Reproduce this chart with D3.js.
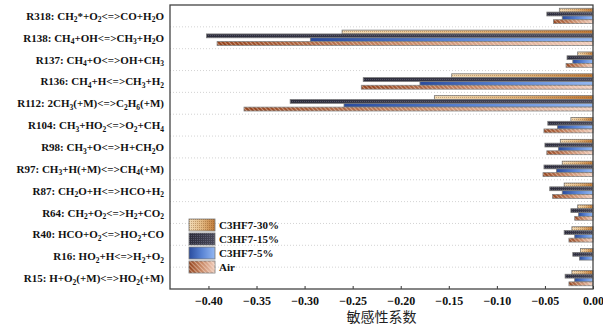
<!DOCTYPE html>
<html>
<head>
<meta charset="utf-8">
<script src="https://cdn.jsdelivr.net/npm/d3@7"></script>
<style>
  body { margin: 0; background: #fff; }
  svg { display: block; }
</style>
</head>
<body>
<div id="chart"></div>
<script>
// reactions, top to bottom ("_n" marks a subscript)
const reactions = [
  'R318: CH_2*+O_2<=>CO+H_2O',
  'R138: CH_4+OH<=>CH_3+H_2O',
  'R137: CH_4+O<=>OH+CH_3',
  'R136: CH_4+H<=>CH_3+H_2',
  'R112: 2CH_3(+M)<=>C_2H_6(+M)',
  'R104: CH_3+HO_2<=>O_2+CH_4',
  'R98: CH_3+O<=>H+CH_2O',
  'R97: CH_3+H(+M)<=>CH_4(+M)',
  'R87: CH_2O+H<=>HCO+H_2',
  'R64: CH_2+O_2<=>H_2+CO_2',
  'R40: HCO+O_2<=>HO_2+CO',
  'R16: HO_2+H<=>H_2+O_2',
  'R15: H+O_2(+M)<=>HO_2(+M)'
]
const seriesNames = ['C3HF7-30%', 'C3HF7-15%', 'C3HF7-5%', 'Air']
const c3hf7_30 = [-0.035, -0.261, -0.016, -0.147, -0.165, -0.023, -0.034, -0.032, -0.030, -0.016, -0.022, -0.013, -0.022]
const c3hf7_15 = [-0.048, -0.402, -0.027, -0.239, -0.315, -0.047, -0.050, -0.051, -0.045, -0.023, -0.030, -0.021, -0.029]
const c3hf7_5  = [-0.032, -0.294, -0.021, -0.180, -0.259, -0.037, -0.036, -0.038, -0.032, -0.015, -0.019, -0.014, -0.019]
const air      = [-0.041, -0.391, -0.028, -0.241, -0.363, -0.051, -0.048, -0.052, -0.042, -0.019, -0.025, 0.000, -0.025]
const xTicks = [-0.40, -0.35, -0.30, -0.25, -0.20, -0.15, -0.10, -0.05, 0.00]
const xTitle = '敏感性系数'

const allSeries = [c3hf7_30, c3hf7_15, c3hf7_5, air]

let W = 603, H = 327
let margin = {top: 5, right: 10, bottom: 38, left: 170}
let pxX = W - margin.left - margin.right,
    pxY = H - margin.top - margin.bottom

let svg = d3.select('#chart').append('svg')
    .attr('width', W).attr('height', H)
let defs = svg.append('defs')

// fills: gradient per series plus a texture on top
function grad(id, stops) {
    let g = defs.append('linearGradient').attr('id', id)
        .attr('x1', 0).attr('x2', 1).attr('y1', 0).attr('y2', 0)
    stops.forEach((c, i) => g.append('stop')
        .attr('offset', i / (stops.length - 1)).attr('stop-color', c))
}
grad('g0', ['#f2dcb8', '#e2b882', '#c07a38'])
grad('g1', ['#2c2c3a', '#3a3a4a', '#4a4a5a'])
grad('g2', ['#2a4c9e', '#5a84d4', '#94b8f2'])
grad('g3', ['#94441e', '#c98a68', '#f0cdbd'])

// dotted texture
let p0 = defs.append('pattern').attr('id', 't0').attr('patternUnits', 'userSpaceOnUse')
    .attr('width', 2).attr('height', 2)
p0.append('rect').attr('width', 1).attr('height', 1).attr('fill', 'rgba(120,70,20,0.35)')
let p1 = defs.append('pattern').attr('id', 't1').attr('patternUnits', 'userSpaceOnUse')
    .attr('width', 2).attr('height', 2)
p1.append('rect').attr('width', 1).attr('height', 1).attr('fill', 'rgba(150,150,175,0.35)')
// hatch for Air
let p3 = defs.append('pattern').attr('id', 't3').attr('patternUnits', 'userSpaceOnUse')
    .attr('width', 3).attr('height', 3).attr('patternTransform', 'rotate(-45)')
p3.append('rect').attr('width', 1).attr('height', 3).attr('fill', 'rgba(255,235,220,0.45)')
const textures = ['url(#t0)', 'url(#t1)', null, 'url(#t3)']

let g = svg.append('g').attr('transform', `translate(${margin.left},${margin.top})`)

let scX = d3.scaleLinear().domain([-0.44, 0]).range([0, pxX])
let scY = d3.scaleBand().domain(reactions).range([0, pxY]).paddingInner(0).paddingOuter(0)
let scS = d3.scaleBand().domain(seriesNames).range([0, scY.bandwidth()]).paddingInner(0).paddingOuter(0.85)

// dotted grid lines between categories
g.append('g').selectAll('line')
    .data(reactions.slice(1))
    .enter().append('line')
    .attr('x1', 0).attr('x2', pxX)
    .attr('y1', d => scY(d)).attr('y2', d => scY(d))
    .attr('stroke', '#c8c8c8').attr('stroke-width', 0.8)
    .attr('stroke-dasharray', '1,2')

// bars
allSeries.forEach((vals, si) => {
    let bg = g.append('g')
    let rows = vals.map((v, i) => ({r: reactions[i], v: v})).filter(d => d.v < 0)
    bg.selectAll('rect.b')
        .data(rows).enter().append('rect').classed('b', true)
        .attr('x', d => scX(d.v))
        .attr('y', d => scY(d.r) + scS(seriesNames[si]))
        .attr('width', d => scX(0) - scX(d.v))
        .attr('height', scS.bandwidth())
        .attr('fill', `url(#g${si})`)
        .attr('stroke', '#7a7a7a').attr('stroke-width', 0.8)
    if (textures[si]) {
        bg.selectAll('rect.t')
            .data(rows).enter().append('rect').classed('t', true)
            .attr('x', d => scX(d.v))
            .attr('y', d => scY(d.r) + scS(seriesNames[si]))
            .attr('width', d => scX(0) - scX(d.v))
            .attr('height', scS.bandwidth())
            .attr('fill', textures[si])
    }
})

// y labels with subscripts
let labG = svg.append('g')
reactions.forEach(r => {
    let t = labG.append('text')
        .attr('x', margin.left - 6)
        .attr('y', margin.top + scY(r) + scY.bandwidth() / 2 + 4)
        .attr('text-anchor', 'end')
        .style('font-family', '"Liberation Serif", "Times New Roman", serif')
        .style('font-weight', 'bold').style('font-size', '11px').attr('fill', '#111')
    let wasSub = false
    r.split(/(_\d)/).filter(s => s.length).forEach(s => {
        if (s[0] === '_') {
            t.append('tspan').attr('dy', 2.5).style('font-size', '7.5px').text(s[1])
            wasSub = true
        } else {
            t.append('tspan').attr('dy', wasSub ? -2.5 : null).text(s)
            wasSub = false
        }
    })
})

// x axis (ticks inward)
let axis = d3.axisBottom(scX).tickValues(xTicks).tickSize(-3).tickPadding(7)
    .tickFormat(d3.format('.2f'))
let ax = g.append('g').attr('transform', `translate(0,${pxY})`).call(axis)
ax.select('.domain').remove()
ax.selectAll('line').attr('stroke', '#333')
ax.selectAll('text')
    .style('font-family', '"Liberation Serif", "Times New Roman", serif')
    .style('font-weight', 'bold').style('font-size', '12px').attr('fill', '#111')

// frame
g.append('rect').attr('x', 0).attr('y', 0).attr('width', pxX).attr('height', pxY)
    .attr('fill', 'none').attr('stroke', '#444').attr('stroke-width', 1.3)

// axis title
svg.append('text')
    .attr('x', margin.left + scX(-0.22)).attr('y', 322)
    .attr('text-anchor', 'middle')
    .style('font-family', '"Noto Sans CJK SC", sans-serif')
    .style('font-size', '14px').attr('fill', '#222')
    .text(xTitle)

// legend
let lg = svg.append('g').attr('transform', 'translate(189,219)')
seriesNames.forEach((n, i) => {
    let row = lg.append('g').attr('transform', `translate(0,${i * 14})`)
    row.append('rect').attr('width', 26).attr('height', 12)
        .attr('fill', `url(#g${i})`).attr('stroke', '#777').attr('stroke-width', 0.8)
    if (textures[i]) row.append('rect').attr('width', 26).attr('height', 12).attr('fill', textures[i])
    row.append('text').attr('x', 30).attr('y', 10)
        .style('font-family', '"Liberation Serif", "Times New Roman", serif')
        .style('font-weight', 'bold').style('font-size', '11px').attr('fill', '#111')
        .text(n)
})
</script>
</body>
</html>
